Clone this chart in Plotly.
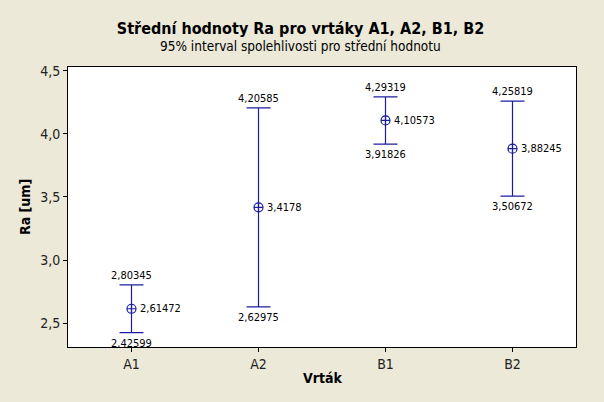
import plotly.graph_objects as go

categories = ["A1", "A2", "B1", "B2"]
means = [2.61472, 3.4178, 4.10573, 3.88245]
lower = [2.42599, 2.62975, 3.91826, 3.50672]
upper = [2.80345, 4.20585, 4.29319, 4.25819]
y_ticks = [2.5, 3.0, 3.5, 4.0, 4.5]

FONT = "DejaVu Sans Condensed, Tahoma, DejaVu Sans, sans-serif"
NAVY = "#1c1ca0"
xs = list(range(len(categories)))

def fmt(v):
    return str(v).replace(".", ",")

fig = go.Figure()
fig.add_trace(go.Scatter(
    x=xs, y=means, mode="markers",
    marker=dict(symbol="circle-cross-open", size=9, color=NAVY, line=dict(width=1.2, color=NAVY)),
    error_y=dict(type="data", symmetric=False,
                 array=[u - m for u, m in zip(upper, means)],
                 arrayminus=[m - l for m, l in zip(means, lower)],
                 color=NAVY, thickness=1.2, width=12),
    showlegend=False, hoverinfo="skip"))

lab_font = dict(family=FONT, size=11, color="#000")
annotations = []
for x, m, lo, up in zip(xs, means, lower, upper):
    annotations.append(dict(x=x, y=up, xref="x", yref="y", text=fmt(up), showarrow=False,
                            xanchor="center", yanchor="bottom", yshift=1, font=lab_font))
    annotations.append(dict(x=x, y=lo, xref="x", yref="y", text=fmt(lo), showarrow=False,
                            xanchor="center", yanchor="top", yshift=-2, font=lab_font))
    annotations.append(dict(x=x, y=m, xref="x", yref="y", text=fmt(m), showarrow=False,
                            xanchor="left", yanchor="middle", xshift=6, font=lab_font))

annotations.append(dict(text="95% interval spolehlivosti pro střední hodnotu", x=0.4577, y=1.075,
                        xref="paper", yref="paper", showarrow=False, xanchor="center",
                        yanchor="middle", font=dict(family=FONT, size=13.5, color="#000")))
annotations.append(dict(text="<b>Vrták</b>", x=0.5, y=-0.111, xref="paper", yref="paper",
                        showarrow=False, xanchor="center", yanchor="middle",
                        font=dict(family=FONT, size=14, color="#000")))
annotations.append(dict(text="<b>Ra [um]</b>", x=-0.0846, y=0.5, xref="paper", yref="paper",
                        showarrow=False, xanchor="center", yanchor="middle", textangle=-90,
                        font=dict(family=FONT, size=14, color="#000")))

fig.update_layout(
    width=604, height=402,
    paper_bgcolor="#ECE9D8", plot_bgcolor="white",
    margin=dict(l=68, r=28, t=67, b=55, autoexpand=False),
    separators=", ",
    font=dict(family=FONT, size=12, color="#000"),
    title=dict(text="<b>Střední hodnoty Ra pro vrtáky A1, A2, B1, B2</b>",
               x=0.4975, xanchor="center", xref="container", y=1 - 28 / 402, yanchor="middle",
               yref="container", font=dict(family=FONT, size=16, color="#000")),
    xaxis=dict(range=[-0.5, 3.5], tickvals=xs, ticktext=categories, automargin=False,
               showgrid=False, zeroline=False, showline=True, linecolor="black", linewidth=1,
               mirror=True, ticks="outside", ticklen=4, tickcolor="black",
               tickfont=dict(size=14, color="#222")),
    yaxis=dict(range=[2.312, 4.529], tickvals=y_ticks, tickformat=".1f", automargin=False,
               showgrid=False, zeroline=False, showline=True, linecolor="black", linewidth=1,
               mirror=True, ticks="outside", ticklen=4, tickcolor="black",
               tickfont=dict(size=14, color="#222")),
    annotations=annotations,
)

fig.write_html("out.html", config={"displayModeBar": False},
               post_script="document.body.style.margin='0px';document.body.style.background='#ECE9D8';")
